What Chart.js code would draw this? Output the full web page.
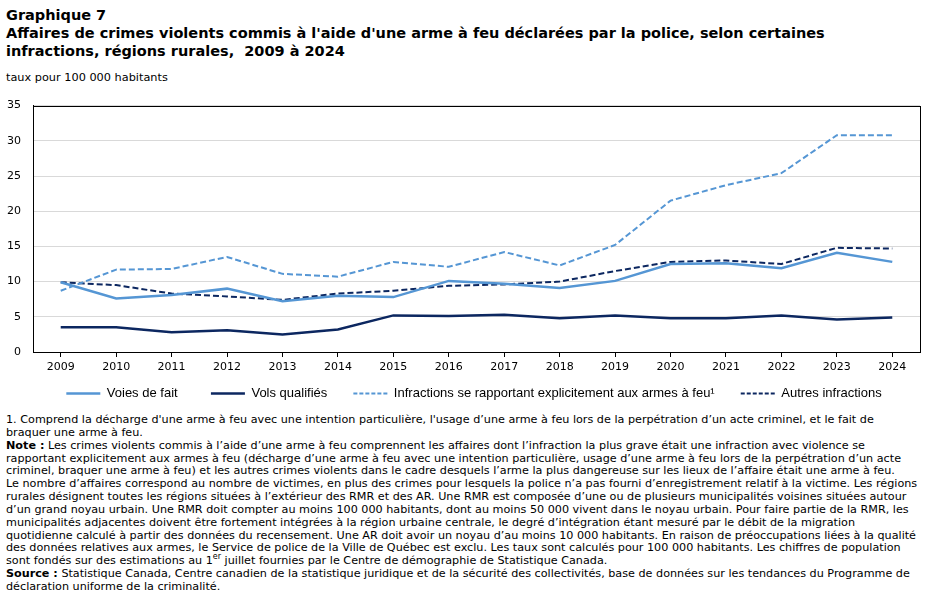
<!DOCTYPE html>
<html lang="fr">
<head>
<meta charset="utf-8">
<script src="https://cdn.jsdelivr.net/npm/chart.js@4"></script>
<style>
  body { margin: 0; background: #fff; font-family: "DejaVu Sans", Verdana, sans-serif; color: #000; }
  #page { position: relative; width: 926px; height: 600px; overflow: hidden; }
  #title { position: absolute; left: 6px; top: 6px; font-weight: bold; font-size: 14.5px; line-height: 18px; white-space: nowrap; }
  #unit { position: absolute; left: 6px; top: 71px; font-size: 11.3px; white-space: nowrap; }
  #chartBox { position: absolute; left: 0; top: 87px; width: 926px; height: 325px; }
  #notes { position: absolute; left: 6px; top: 414px; font-size: 11.2px; line-height: 12.85px; white-space: nowrap; }
</style>
</head>
<body>
<div id="page">
  <div id="title">Graphique 7<br>Affaires de crimes violents commis à l'aide d'une arme à feu déclarées par la police, selon certaines<br>infractions, régions rurales, &nbsp;2009 à 2024</div>
  <div id="unit">taux pour 100 000 habitants</div>
  <div id="chartBox"><canvas id="myChart"></canvas></div>
  <div id="notes">
    1. Comprend la décharge d'une arme à feu avec une intention particulière, l'usage d’une arme à feu lors de la perpétration d’un acte criminel, et le fait de<br>
    braquer une arme à feu.<br>
    <b>Note :</b> Les crimes violents commis à l’aide d’une arme à feu comprennent les affaires dont l’infraction la plus grave était une infraction avec violence se<br>
    rapportant explicitement aux armes à feu (décharge d’une arme à feu avec une intention particulière, usage d’une arme à feu lors de la perpétration d’un acte<br>
    criminel, braquer une arme à feu) et les autres crimes violents dans le cadre desquels l’arme la plus dangereuse sur les lieux de l’affaire était une arme à feu.<br>
    Le nombre d’affaires correspond au nombre de victimes, en plus des crimes pour lesquels la police n’a pas fourni d’enregistrement relatif à la victime. Les régions<br>
    rurales désignent toutes les régions situées à l’extérieur des RMR et des AR. Une RMR est composée d’une ou de plusieurs municipalités voisines situées autour<br>
    d’un grand noyau urbain. Une RMR doit compter au moins 100 000 habitants, dont au moins 50 000 vivent dans le noyau urbain. Pour faire partie de la RMR, les<br>
    municipalités adjacentes doivent être fortement intégrées à la région urbaine centrale, le degré d’intégration étant mesuré par le débit de la migration<br>
    quotidienne calculé à partir des données du recensement. Une AR doit avoir un noyau d’au moins 10 000 habitants. En raison de préoccupations liées à la qualité<br>
    des données relatives aux armes, le Service de police de la Ville de Québec est exclu. Les taux sont calculés pour 100 000 habitants. Les chiffres de population<br>
    sont fondés sur des estimations au 1<sup style="font-size:8px;line-height:0">er</sup> juillet fournies par le Centre de démographie de Statistique Canada.<br>
    <b>Source :</b> Statistique Canada, Centre canadien de la statistique juridique et de la sécurité des collectivités, base de données sur les tendances du Programme de<br>
    déclaration uniforme de la criminalité.
  </div>
</div>
<script>
"use strict";

const years = ["2009", "2010", "2011", "2012", "2013", "2014", "2015", "2016",
    "2017", "2018", "2019", "2020", "2021", "2022", "2023", "2024"];
const voiesDeFait = [9.9, 7.6, 8.1, 9.0, 7.2, 8.0, 7.8, 10.1, 9.7, 9.1, 10.1, 12.5, 12.6, 11.9, 14.1, 12.8];
const volsQualifies = [3.5, 3.5, 2.8, 3.1, 2.5, 3.2, 5.2, 5.1, 5.3, 4.8, 5.2, 4.8, 4.8, 5.2, 4.6, 4.9];
const armesAFeu = [8.7, 11.7, 11.8, 13.5, 11.1, 10.7, 12.8, 12.1, 14.2, 12.3, 15.2, 21.5, 23.7, 25.4, 30.8, 30.8];
const autres = [9.9, 9.5, 8.3, 7.9, 7.4, 8.3, 8.7, 9.4, 9.6, 10.0, 11.5, 12.8, 13.0, 12.5, 14.8, 14.7];
const yTicks = [0, 5, 10, 15, 20, 25, 30, 35];

const lightBlue = "#5596d4";
const navy = "#0c2760";
// espace ajouté après chaque libellé de légende
const legendGaps = [7, 5, 5, 0];
const legendShift = 14;

// cadre noir autour de la zone de tracé
const frame = {
    id: "frame",
    afterLayout(chart) {
        // la légende de l'original est un peu décentrée vers la droite
        chart.legend.left += legendShift;
        chart.legend.right += legendShift;
    },
    afterDraw(chart) {
        const { ctx, chartArea: a } = chart;
        ctx.save();
        ctx.strokeStyle = "#000";
        ctx.lineWidth = 1;
        ctx.strokeRect(Math.round(a.left) + 0.5, Math.round(a.top) + 0.5,
            Math.round(a.right - a.left), Math.round(a.bottom - a.top));
        ctx.restore();
    },
};

Chart.defaults.font.family = '"DejaVu Sans", Verdana, sans-serif';
Chart.defaults.font.size = 11;
Chart.defaults.color = "#000";

new Chart(document.getElementById("myChart"), {
    type: "line",
    data: {
        labels: years,
        datasets: [
            { label: "Voies de fait", data: voiesDeFait, borderColor: lightBlue, borderWidth: 2.5 },
            { label: "Vols qualifiés", data: volsQualifies, borderColor: navy, borderWidth: 2.5 },
            { label: "Infractions se rapportant explicitement aux armes à feu\u00B9", data: armesAFeu,
                borderColor: lightBlue, borderWidth: 2, borderDash: [6, 3] },
            { label: "Autres infractions", data: autres, borderColor: navy, borderWidth: 2, borderDash: [6, 3] },
        ],
    },
    options: {
        responsive: true,
        maintainAspectRatio: false,
        animation: false,
        layout: { padding: { top: 6, right: 6, bottom: 2, left: 0 } },
        elements: {
            point: { radius: 0, hoverRadius: 0 },
            line: { tension: 0, backgroundColor: "transparent", fill: false },
        },
        plugins: {
            legend: {
                position: "bottom",
                labels: {
                    usePointStyle: true,
                    pointStyleWidth: 34,
                    boxHeight: 13,
                    padding: 8,
                    color: "#000",
                    font: { family: '"Liberation Sans", Arial, sans-serif', size: 13 },
                    generateLabels(chart) {
                        const items = Chart.defaults.plugins.legend.labels.generateLabels(chart);
                        items.forEach((item, i) => {
                            const ds = chart.data.datasets[item.datasetIndex];
                            item.pointStyle = "line";
                            item.strokeStyle = ds.borderColor;
                            item.lineWidth = ds.borderWidth;
                            item.lineDash = ds.borderDash ? [4, 2] : [];
                            item.text = item.text + "\u00A0".repeat(legendGaps[i]);
                        });
                        return items;
                    },
                },
            },
            tooltip: { enabled: false },
        },
        scales: {
            x: {
                offset: true,
                grid: { drawOnChartArea: false, drawTicks: true, tickLength: 5, color: "#000" },
                border: { color: "#000" },
                ticks: { padding: 4, maxRotation: 0, autoSkip: false },
                afterFit(scale) { scale.height = 27; },
            },
            y: {
                min: 0,
                max: 35,
                afterBuildTicks(scale) { scale.ticks = yTicks.map(v => ({ value: v })); },
                grid: { color: "#d9d9d9", drawTicks: false },
                border: { color: "#000" },
                ticks: { padding: 12 },
                afterFit(scale) { scale.width = 33; },
            },
        },
    },
    plugins: [frame],
});
</script>
</body>
</html>
